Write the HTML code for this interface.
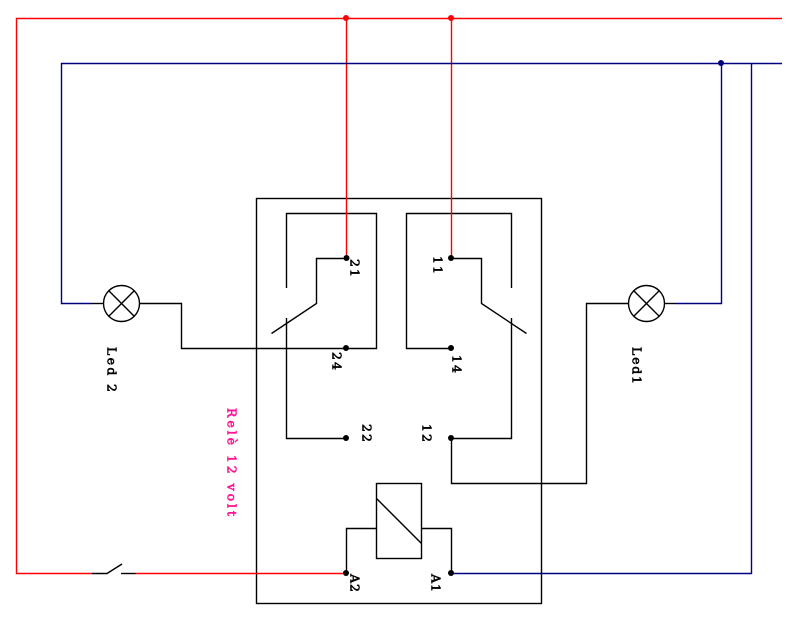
<!DOCTYPE html>
<html>
<head>
<meta charset="utf-8">
<style>
html,body{margin:0;padding:0;background:#fff;width:798px;height:620px;overflow:hidden}
svg{display:block}
text{font-family:"DejaVu Serif",serif;font-size:12.5px;font-weight:normal;fill:#000;stroke:#000;stroke-width:.6px}
</style>
</head>
<body>
<svg width="798" height="620" viewBox="0 0 798 620" xmlns="http://www.w3.org/2000/svg">
<g fill="none" stroke-width="1.4">
<!-- box -->
<rect x="256.5" y="198.5" width="285" height="405" stroke="#000"/>
<!-- black wiring -->
<g stroke="#000">
<polyline points="91,303.5 103.5,303.5"/>
<polyline points="139.5,303.5 181.5,303.5 181.5,348.5 376.5,348.5 376.5,213.5 286.5,213.5 286.5,288"/>
<polyline points="286.5,318 286.5,438.5 346.5,438.5"/>
<polyline points="346.5,258.5 316.5,258.5 316.5,303.5 271.5,333.5"/>
<polyline points="451.5,348.5 406.5,348.5 406.5,213.5 511.5,213.5 511.5,288"/>
<polyline points="451.5,258.5 481.5,258.5 481.5,303.5 526.5,333.5"/>
<polyline points="511.5,318 511.5,438.5 451.5,438.5 451.5,483.5 586.5,483.5 586.5,303.5 628.5,303.5"/>
<polyline points="664.5,303.5 676,303.5"/>
<rect x="376.5" y="483.5" width="45" height="75"/>
<line x1="376.5" y1="498.5" x2="421.5" y2="543.5"/>
<polyline points="346.5,573.5 346.5,528.5 376.5,528.5"/>
<polyline points="421.5,528.5 451.5,528.5 451.5,573.5"/>
<polyline points="92,573.5 107,573.5 122,564"/>
<line x1="121" y1="573.5" x2="136" y2="573.5"/>
<circle cx="121.5" cy="303.5" r="18"/>
<line x1="108.8" y1="290.8" x2="134.2" y2="316.2"/>
<line x1="108.8" y1="316.2" x2="134.2" y2="290.8"/>
<circle cx="646.5" cy="303.5" r="18"/>
<line x1="633.8" y1="290.8" x2="659.2" y2="316.2"/>
<line x1="633.8" y1="316.2" x2="659.2" y2="290.8"/>
</g>
<!-- red wiring -->
<g stroke="#ff0000">
<polyline points="782,18.5 16.5,18.5 16.5,573.5 92,573.5"/>
<line x1="136" y1="573.5" x2="346.5" y2="573.5"/>
<line x1="346.5" y1="18.5" x2="346.5" y2="258.5"/>
<line x1="451.5" y1="18.5" x2="451.5" y2="258.5"/>
</g>
<!-- blue wiring -->
<g stroke="#000080">
<polyline points="782,63.5 61.5,63.5 61.5,303.5 91,303.5"/>
<polyline points="676,303.5 721.5,303.5 721.5,63.5"/>
<polyline points="751.5,63.5 751.5,573.5 451.5,573.5"/>
</g>
</g>
<!-- junction dots -->
<g fill="#000">
<circle cx="346.5" cy="258" r="3"/>
<circle cx="451" cy="258" r="3"/>
<circle cx="346" cy="348" r="3"/>
<circle cx="451" cy="348" r="3"/>
<circle cx="346" cy="438" r="3"/>
<circle cx="451" cy="438" r="3"/>
<circle cx="346" cy="573" r="3"/>
<circle cx="451" cy="573" r="3"/>
</g>
<g fill="#ff0000">
<circle cx="346" cy="18" r="3"/>
<circle cx="451" cy="18" r="3"/>
</g>
<circle cx="721" cy="63" r="3" fill="#000080"/>
<!-- labels -->
<text transform="translate(107.5,347) rotate(90)" textLength="45" lengthAdjust="spacing">Led 2</text>
<text transform="translate(632.5,347) rotate(90)" textLength="37" lengthAdjust="spacing">Led1</text>
<text transform="translate(227.5,408) rotate(90)" textLength="108" lengthAdjust="spacing" style="fill:#ff1493;stroke:#ff1493">Relè 12 volt</text>
<text transform="translate(350.5,259) rotate(90)" textLength="18" lengthAdjust="spacing">21</text>
<text transform="translate(433.5,256) rotate(90)" textLength="18" lengthAdjust="spacing">11</text>
<text transform="translate(332.5,352) rotate(90)" textLength="18" lengthAdjust="spacing">24</text>
<text transform="translate(452.5,355) rotate(90)" textLength="18" lengthAdjust="spacing">14</text>
<text transform="translate(362.5,424) rotate(90)" textLength="18" lengthAdjust="spacing">22</text>
<text transform="translate(422.5,424) rotate(90)" textLength="18" lengthAdjust="spacing">12</text>
<text transform="translate(350.5,574) rotate(90)" textLength="18" lengthAdjust="spacing">A2</text>
<text transform="translate(431.5,574) rotate(90)" textLength="18" lengthAdjust="spacing">A1</text>
</svg>
</body>
</html>
